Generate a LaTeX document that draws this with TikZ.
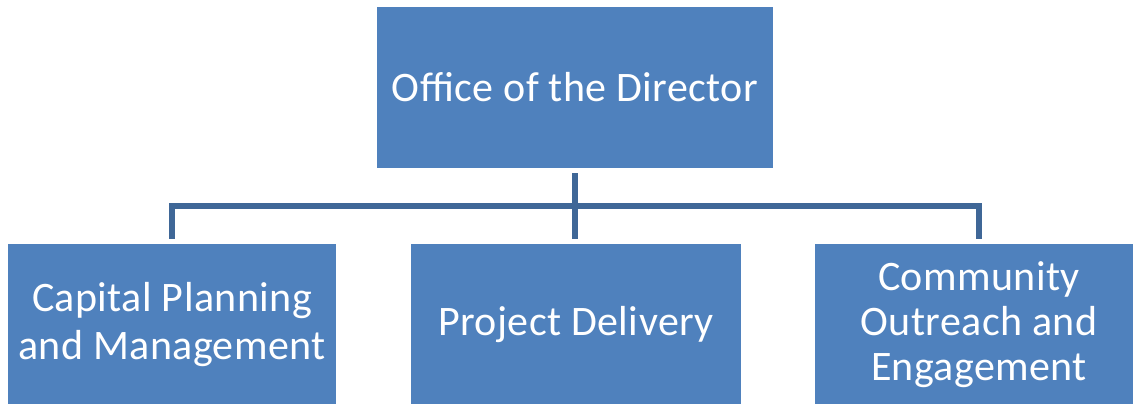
\documentclass[tikz,border=0pt]{standalone}
\usepackage{fontspec}
\setmainfont{Carlito}[LetterSpace=1.0]
\definecolor{boxblue}{HTML}{4F81BD}
\definecolor{linkblue}{HTML}{3F6797}
\begin{document}
\begin{tikzpicture}[x=1pt,y=-1pt,
  orgbox/.style={fill=boxblue, draw=none, inner sep=0pt, text=white, align=center,
    font=\fontsize{42}{48}\selectfont},
  conn/.style={draw=linkblue, line width=5.5pt}]
\useasboundingbox (0,0) rectangle (1133,404);
\node[orgbox, minimum width=396pt, minimum height=161pt] (top) at (575,87.5) {Office of the Director};
\node[orgbox, minimum width=328pt, minimum height=161pt] (l) at (172,324.5) {Capital Planning\\and Management};
\node[orgbox, minimum width=330pt, minimum height=161pt] (m) at (576,324.5) {Project Delivery};
\node[orgbox, minimum width=328pt, minimum height=161pt, font=\fontsize{42}{45}\selectfont] (r) at (979,324.5) {Community\\Outreach and\\Engagement};
\coordinate (bus) at (575,206);
\draw[conn, shorten <=5pt] (top.south) -- (bus);
\draw[conn, shorten >=5pt] (bus) -| (l.north);
\draw[conn, shorten >=5pt] (bus) -- (bus |- m.north);
\draw[conn, shorten >=5pt] (bus) -| (r.north);
\end{tikzpicture}
\end{document}
